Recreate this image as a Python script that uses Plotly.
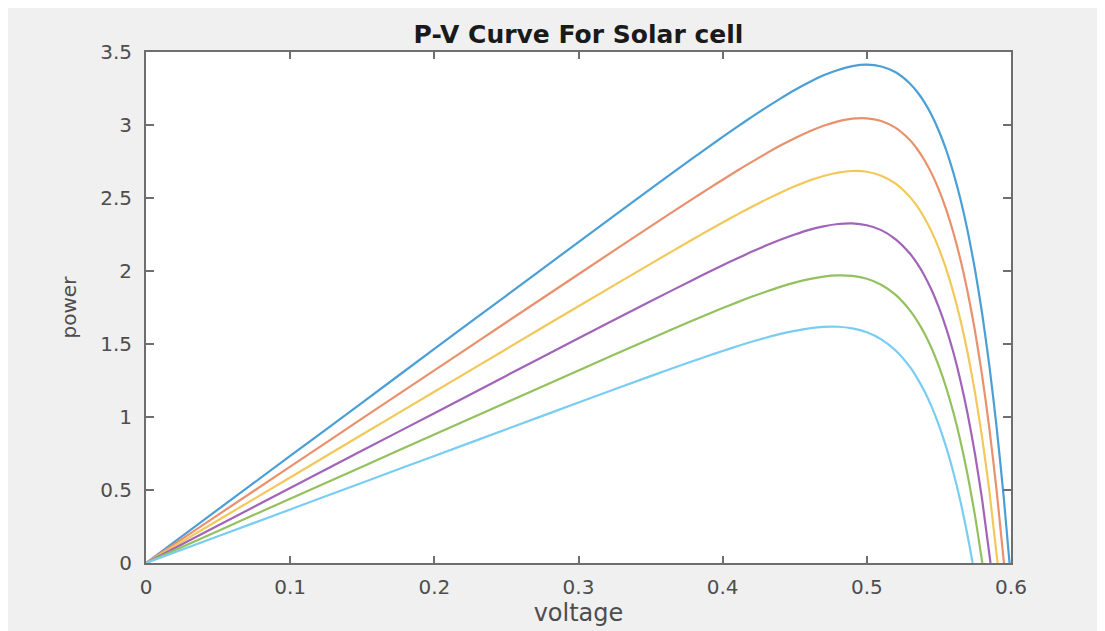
import plotly.graph_objects as go

# Shared voltage grid (V)
voltage = [0, 0.05, 0.1, 0.15, 0.2, 0.25, 0.3, 0.35, 0.38, 0.39, 0.40, 0.41, 0.42, 0.43,
           0.44, 0.45, 0.46, 0.47, 0.48, 0.49, 0.50, 0.51, 0.52, 0.53, 0.535, 0.54, 0.545,
           0.55, 0.555, 0.56, 0.565, 0.57, 0.575, 0.58, 0.585, 0.59, 0.595]

# Power (W) for each curve (top curve first)
p_1000 = [0, 0.367, 0.733, 1.099, 1.466, 1.832, 2.198, 2.562, 2.778, 2.849, 2.918, 2.987,
          3.054, 3.119, 3.181, 3.240, 3.293, 3.340, 3.377, 3.403, 3.413, 3.401, 3.361,
          3.283, 3.226, 3.155, 3.067, 2.959, 2.829, 2.674, 2.489, 2.270, 2.012, 1.707,
          1.350, 0.933, 0.446]
p_900 = [0, 0.330, 0.660, 0.990, 1.319, 1.649, 1.978, 2.306, 2.499, 2.563, 2.625, 2.687,
         2.746, 2.804, 2.859, 2.910, 2.956, 2.995, 3.025, 3.044, 3.046, 3.027, 2.980,
         2.895, 2.834, 2.759, 2.667, 2.556, 2.422, 2.264, 2.075, 1.853, 1.591, 1.282,
         0.921, 0.500]
p_800 = [0, 0.293, 0.586, 0.880, 1.173, 1.466, 1.759, 2.049, 2.221, 2.277, 2.332, 2.386,
         2.438, 2.489, 2.536, 2.580, 2.619, 2.651, 2.674, 2.685, 2.680, 2.653, 2.599,
         2.506, 2.442, 2.363, 2.268, 2.153, 2.016, 1.853, 1.661, 1.435, 1.169, 0.857,
         0.492]
p_700 = [0, 0.257, 0.513, 0.770, 1.026, 1.283, 1.539, 1.793, 1.942, 1.991, 2.039, 2.086,
         2.131, 2.174, 2.214, 2.250, 2.282, 2.306, 2.322, 2.326, 2.313, 2.280, 2.217,
         2.118, 2.050, 1.968, 1.868, 1.749, 1.609, 1.443, 1.247, 1.017, 0.748, 0.432]
p_600 = [0, 0.220, 0.440, 0.660, 0.880, 1.100, 1.319, 1.536, 1.664, 1.705, 1.746, 1.785,
         1.823, 1.858, 1.891, 1.920, 1.944, 1.962, 1.970, 1.966, 1.947, 1.906, 1.836,
         1.729, 1.657, 1.572, 1.469, 1.346, 1.202, 1.032, 0.833, 0.599, 0.326]
p_500 = [0, 0.183, 0.367, 0.550, 0.733, 0.916, 1.099, 1.280, 1.385, 1.419, 1.452, 1.485,
         1.515, 1.543, 1.569, 1.590, 1.607, 1.617, 1.618, 1.607, 1.580, 1.532, 1.455,
         1.341, 1.265, 1.176, 1.069, 0.943, 0.795, 0.622, 0.419, 0.181]

# Open-circuit voltage where each curve returns to zero power
voc = [0.599, 0.5951, 0.5907, 0.5858, 0.5801, 0.5734]

series_names = ["1000 W/m²", "900 W/m²", "800 W/m²", "700 W/m²", "600 W/m²", "500 W/m²"]
series_power = [p_1000, p_900, p_800, p_700, p_600, p_500]
colors = ["#4a9fd6", "#e8916c", "#f3c85a", "#a164b8", "#93c15e", "#79cdf2"]

x_ticks = [0, 0.1, 0.2, 0.3, 0.4, 0.5, 0.6]
y_ticks = [0, 0.5, 1, 1.5, 2, 2.5, 3, 3.5]

fig = go.Figure()
for name, pw, vo, col in zip(series_names, series_power, voc, colors):
    xs = voltage[:len(pw)] + [vo]
    ys = pw + [0]
    fig.add_trace(go.Scatter(x=xs, y=ys, mode="lines", name=name,
                             line=dict(color=col, width=2.2, shape="spline", smoothing=0.6),
                             showlegend=False))

axis_col = "#6e6e6e"
tick_font = dict(family="DejaVu Sans", size=20, color="#4d4d4d")
common = dict(showline=True, linecolor=axis_col, linewidth=2, mirror="ticks",
              ticks="inside", tickcolor=axis_col, tickwidth=1.5,
              showgrid=False, zeroline=False, tickfont=tick_font)

fig.update_xaxes(range=[0, 0.6], tickvals=x_ticks, ticktext=[str(v) for v in x_ticks],
                 ticklen=7, ticklabelstandoff=5,
                 title=dict(text="voltage", standoff=6,
                            font=dict(family="DejaVu Sans", size=24, color="#4d4d4d")),
                 **common)
fig.update_yaxes(range=[0, 3.5], tickvals=y_ticks, ticktext=[f"{v:g}" for v in y_ticks],
                 ticklen=8, ticklabelstandoff=8,
                 title=dict(text="power", standoff=18,
                            font=dict(family="DejaVu Sans", size=20, color="#4d4d4d")),
                 **common)

# page has an 8px body margin; figure fills the rest of the 1105x631 window
W, H = 1097, 623
L, T = 138, 44
PW, PH = 865, 511
R = W - L - PW
B = H - T - PH

fig.update_layout(
    width=W, height=H,
    margin=dict(l=L, r=R, t=T, b=B, autoexpand=False),
    paper_bgcolor="#f0f0f0", plot_bgcolor="white",
    title=dict(text="<b>P-V Curve For Solar cell</b>", x=0.5, xref="paper",
               y=1 - 26 / H, yref="container", xanchor="center", yanchor="middle",
               font=dict(family="DejaVu Sans", size=25, color="#1a1a1a")),
    showlegend=False,
)

fig.write_html("out.html")
